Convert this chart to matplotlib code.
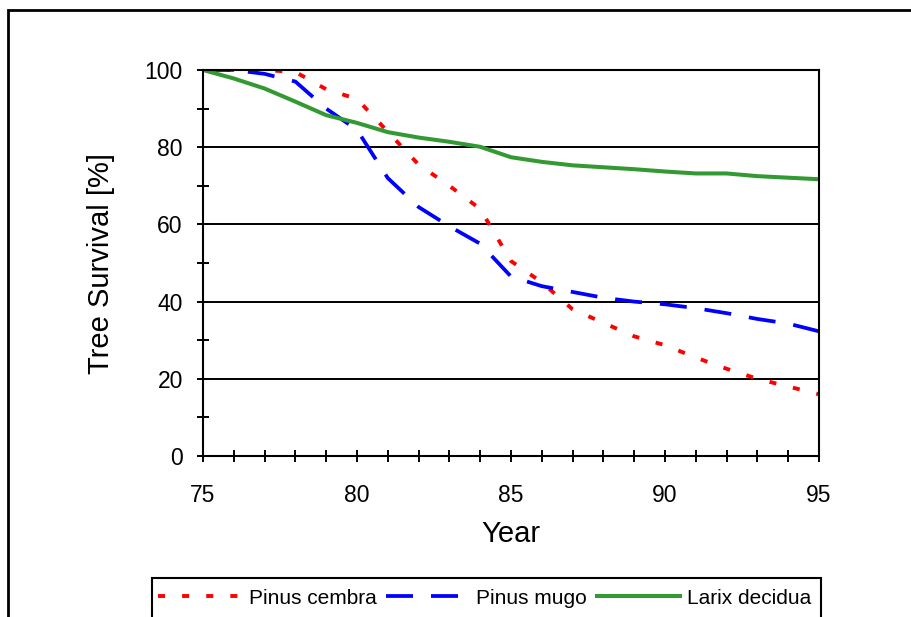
import matplotlib
matplotlib.use("Agg")
import matplotlib.pyplot as plt
from matplotlib.patches import Rectangle
from matplotlib.ticker import MultipleLocator

# --- Data ---
years = [75, 76, 77, 78, 79, 80, 81, 82, 83, 84, 85, 86, 87, 88, 89, 90, 91, 92, 93, 94, 95]
pinus_cembra = [100, 100, 100, 99.5, 95, 92.5, 84, 75.5, 70, 64, 50.5, 45, 38, 34.5, 31, 28.7, 25.5, 22.6, 20, 18, 16]
pinus_mugo = [100, 100, 99, 97, 90, 84.5, 72, 64.5, 59.5, 55, 46.5, 44, 42.5, 41, 40, 39.3, 38.3, 37, 35.5, 34.3, 32.3]
larix_decidua = [100, 97.8, 95.2, 91.8, 88.3, 86.3, 83.9, 82.5, 81.4, 80.1, 77.4, 76.2, 75.3, 74.8, 74.3, 73.7, 73.2, 73.2, 72.5, 72.1, 71.7]

series_names = ["Pinus cembra", "Pinus mugo", "Larix decidua"]

plt.rcParams["font.family"] = ["Liberation Sans", "DejaVu Sans"]

fig = plt.figure(figsize=(9.12, 6.17), dpi=100)
ax = fig.add_axes([203 / 912, 1 - 456 / 617, 616 / 912, 386 / 617])

ax.plot(years, pinus_cembra, color="#FF0000", linewidth=2.8,
        dashes=(1.8, 4.4), label=series_names[0])
ax.plot(years, pinus_mugo, color="#0000FF", linewidth=2.7,
        dashes=(7.2, 4.8), label=series_names[1])
ax.plot(years, larix_decidua, color="#339933", linewidth=2.9,
        label=series_names[2])

ax.set_xlim(75, 95)
ax.set_ylim(0, 100)
ax.xaxis.set_major_locator(MultipleLocator(5))
ax.xaxis.set_minor_locator(MultipleLocator(1))
ax.yaxis.set_major_locator(MultipleLocator(20))
ax.yaxis.set_minor_locator(MultipleLocator(10))
ax.grid(True, which="major", axis="y", color="black", linewidth=1.4)
ax.set_axisbelow(True)

ax.tick_params(axis="both", which="both", direction="inout", length=9,
               width=1.4, color="black")
ax.tick_params(axis="x", which="major", labelsize=16.5, pad=16)
ax.tick_params(axis="y", which="major", labelsize=16.5, pad=10)
for spine in ax.spines.values():
    spine.set_linewidth(1.5)

ax.set_xlabel("Year", fontsize=21, labelpad=9)
ax.set_ylabel("Tree Survival [%]", fontsize=21, labelpad=21)

# outer chart frame (cut off at right and bottom like the reference)
fig.patches.append(Rectangle((8 / 912, -0.2), 1.2, 1 - 10 / 617 + 0.2,
                             transform=fig.transFigure, fill=False,
                             edgecolor="black", linewidth=2))

# legend box, running off the bottom of the image
fig.patches.append(Rectangle((152 / 912, -0.1), (821 - 152) / 912,
                             0.1 + 1 - 578 / 617, transform=fig.transFigure,
                             fill=False, edgecolor="black", linewidth=1.5))
leg = fig.legend(loc="center left", bbox_to_anchor=(156 / 912, 1 - 598 / 617),
                 ncol=3, frameon=False, fontsize=15, handlelength=4.0,
                 handletextpad=0.35, columnspacing=0.45, borderaxespad=0,
                 borderpad=0.1)

fig.savefig("out.png", dpi=100)
